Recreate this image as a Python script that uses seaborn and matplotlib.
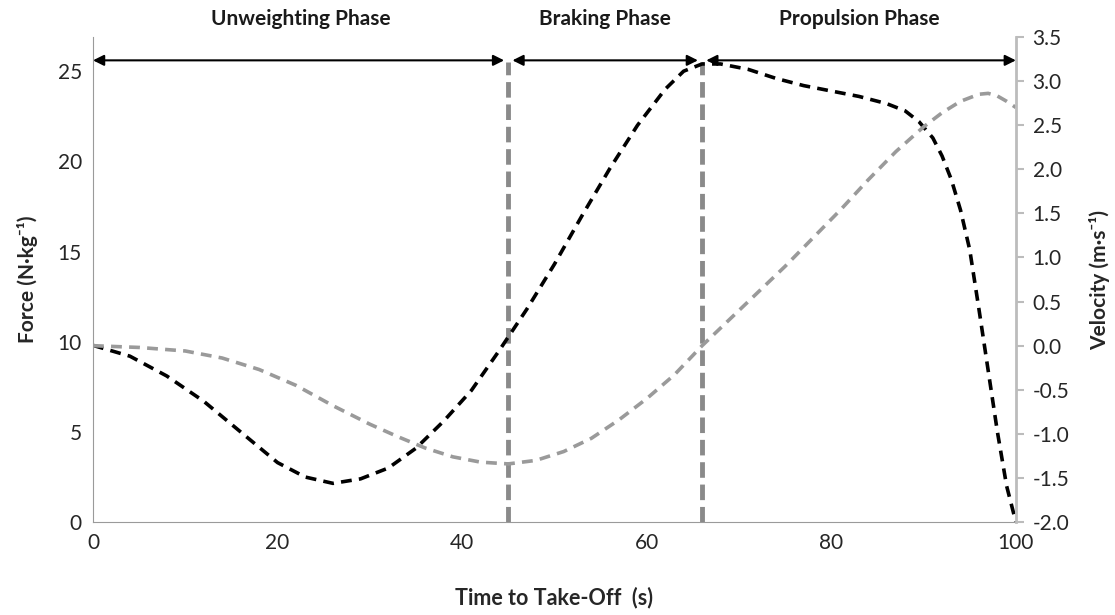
import numpy as np
import pandas as pd
import matplotlib
matplotlib.use("Agg")
import matplotlib.pyplot as plt
import seaborn as sns

# Time to take-off (%), force (N/kg)
force_time = [0, 4, 8, 12, 16, 20, 23, 26, 29, 32, 35, 38, 41, 44, 47, 50, 53, 56, 59, 62,
              64, 66, 68, 71, 74, 77, 80, 83, 86, 88, 89.5, 91, 92, 93, 94, 95, 96, 97, 98, 99, 100]
force_vals = [9.8, 9.2, 8.1, 6.7, 5.0, 3.3, 2.5, 2.15, 2.4, 3.0, 4.1, 5.6, 7.3, 9.5, 11.8, 14.3,
              17.0, 19.6, 22.0, 24.0, 25.0, 25.4, 25.4, 25.1, 24.6, 24.2, 23.9, 23.6, 23.2, 22.8,
              22.2, 21.3, 20.3, 19.0, 17.3, 15.1, 11.8, 8.4, 5.0, 2.0, 0.0]

# Velocity (m/s)
vel_time = [0, 5, 10, 14, 18, 22, 26, 30, 33, 36, 39, 42, 45, 48, 51, 54, 57, 60, 63, 66,
            69, 72, 75, 78, 81, 84, 87, 90, 92, 94, 96, 97, 98, 99, 100]
vel_vals = [0.0, -0.02, -0.06, -0.14, -0.27, -0.45, -0.68, -0.89, -1.03, -1.16, -1.26, -1.32,
            -1.34, -1.30, -1.20, -1.05, -0.84, -0.60, -0.33, 0.0, 0.30, 0.60, 0.90, 1.22, 1.54,
            1.88, 2.20, 2.48, 2.64, 2.77, 2.85, 2.86, 2.83, 2.77, 2.70]

# Phases: name, start, end
phase_names = ["Unweighting Phase", "Braking Phase", "Propulsion Phase"]
phase_bounds = [0, 45, 66, 100]
phase_label_x = [22.5, 55.5, 83]

df_force = pd.DataFrame({"t": force_time, "force": force_vals})
df_vel = pd.DataFrame({"t": vel_time, "vel": vel_vals})

sns.set_style("white")
plt.rcParams["font.family"] = ["Lato", "DejaVu Sans"]

fig = plt.figure(figsize=(11.15, 6.15), dpi=100)
ax = fig.add_axes([0.0834, 0.151, 0.8277, 0.789])
ax2 = ax.twinx()

sns.lineplot(data=df_force, x="t", y="force", ax=ax, color="black", lw=2.6,
             linestyle=(0, (3, 2)), sort=False)
sns.lineplot(data=df_vel, x="t", y="vel", ax=ax2, color="#9a9a9a", lw=2.6,
             linestyle=(0, (3, 2)), sort=False)

ax.set_xlim(0, 100)
ax.set_ylim(0, 26.9)
ax2.set_ylim(-2.0, 3.5)
ax.set_xticks(range(0, 101, 20))
ax.set_yticks(range(0, 26, 5))
ax2.set_yticks(np.arange(-2.0, 3.51, 0.5))
ax2.set_yticklabels([f"{v:.1f}" for v in np.arange(-2.0, 3.51, 0.5)])

# phase boundaries
for b in phase_bounds[1:-1]:
    ax.vlines(b, 0, 25.5, color="#8a8a8a", lw=3.5, linestyles=(0, (3.2, 1.4)), zorder=1)

# phase arrows + labels
gap = 0.45
for i, name in enumerate(phase_names):
    x0 = phase_bounds[i] + (gap if i > 0 else 0)
    x1 = phase_bounds[i + 1] - (gap if i < 2 else 0)
    ax.annotate("", xy=(x1, 25.6), xytext=(x0, 25.6),
                arrowprops=dict(arrowstyle="<|-|>", color="black", lw=1.5, mutation_scale=16,
                                shrinkA=0, shrinkB=0))
    ax.text(phase_label_x[i], 1.037, name, transform=ax.get_xaxis_transform(),
            ha="center", va="center", fontsize=15, fontweight="bold", color="#1a1a1a")

for s in ["top"]:
    ax.spines[s].set_visible(False)
    ax2.spines[s].set_visible(False)
ax.spines["left"].set_color("#9a9a9a")
ax.spines["bottom"].set_color("#9a9a9a")
ax.spines["right"].set_visible(False)
ax2.spines["left"].set_visible(False)
ax2.spines["bottom"].set_visible(False)
ax2.spines["right"].set_color("#bcbcbc")
ax2.spines["right"].set_linewidth(2)

ax.tick_params(axis="both", length=0, labelsize=15, labelcolor="#262626", pad=8)
ax2.tick_params(axis="y", length=6, width=1.5, color="#bcbcbc", labelsize=15,
                labelcolor="#262626", pad=6, direction="out")

ax.set_xlabel("Time to Take-Off  (s)", fontsize=15.5, fontweight="bold", labelpad=24)
ax.set_ylabel("Force (N·kg⁻¹)", fontsize=15, fontweight="bold", labelpad=14)
ax2.set_ylabel("Velocity (m·s⁻¹)", fontsize=15, fontweight="bold", labelpad=14)
ax.grid(False)
ax2.grid(False)

fig.savefig("out.png", dpi=100)
